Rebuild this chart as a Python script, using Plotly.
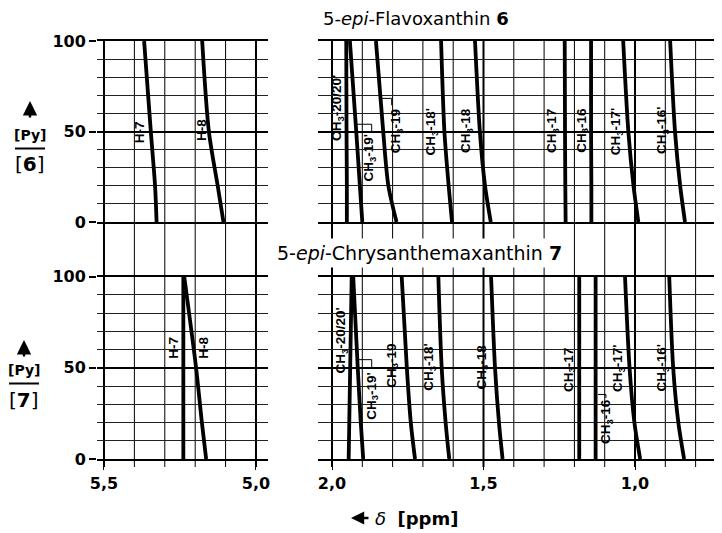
import numpy as np
import plotly.graph_objects as go

# the page body has an 8px default margin: size the figure so that it fills
# the 722x533 window exactly
OFF = 8
W, H = 722 - OFF, 533 - OFF

# ---------------- data ----------------
# titration level [Py]/[compound] (y) and chemical shift delta in ppm (x)
levels = [0, 20, 50, 100]

# 5-epi-Flavoxanthin 6
f6_H7 = [5.327, 5.332, 5.346, 5.368]
f6_H8 = [5.107, 5.126, 5.155, 5.177]
f6_CH3_20 = [1.951, 1.951, 1.952, 1.953]
f6_CH3_19p = [1.900, 1.908, 1.920, 1.941]
f6_CH3_19 = [1.787, 1.814, 1.831, 1.855]
f6_CH3_18p = [1.604, 1.615, 1.629, 1.640]
f6_CH3_18 = [1.476, 1.495, 1.512, 1.528]
f6_CH3_17 = [1.229, 1.230, 1.231, 1.232]
f6_CH3_16 = [1.144, 1.144, 1.145, 1.145]
f6_CH3_17p = [0.989, 1.005, 1.022, 1.039]
f6_CH3_16p = [0.835, 0.851, 0.868, 0.884]

# 5-epi-Chrysanthemaxanthin 7
c7_H7 = [5.239, 5.239, 5.239, 5.239]
c7_H8 = [5.164, 5.178, 5.197, 5.236]
c7_CH3_20 = [1.945, 1.943, 1.940, 1.935]
c7_CH3_19p = [1.897, 1.905, 1.915, 1.930]
c7_CH3_19 = [1.726, 1.740, 1.753, 1.770]
c7_CH3_18p = [1.613, 1.625, 1.638, 1.649]
c7_CH3_18 = [1.437, 1.449, 1.462, 1.475]
c7_CH3_17 = [1.184, 1.184, 1.184, 1.184]
c7_CH3_16 = [1.130, 1.130, 1.130, 1.130]
c7_CH3_17p = [0.983, 1.002, 1.018, 1.033]
c7_CH3_16p = [0.838, 0.857, 0.874, 0.887]

x_tickvals_left = [5.5, 5.0]
x_ticktext_left = ["5,5", "5,0"]
x_tickvals_right = [2.0, 1.5, 1.0]
x_ticktext_right = ["2,0", "1,5", "1,0"]

# ---------------- layout helpers (window pixel -> paper) ----------------
def px(x):
    return (x - OFF) / W

def py(y):
    return 1 - (y - OFF) / H

DOM_L = [px(97), px(268)]
DOM_R = [px(318), 1.0]
DOM_T = [py(222), py(41)]
DOM_B = [py(459), py(276.7)]
RANGE_L = [5.523, 4.9605]
RANGE_R = [2.0462, 0.7129]

CH3 = "CH<sub>3</sub>"
LAB_FONT = dict(family="Liberation Sans", size=13.5, color="black", weight="bold")

# curves: (values, axis-suffix, label, label_x, label_y)
curves = [
    (f6_H7, "", "H-7", 5.382, 49.5),
    (f6_H8, "", "H-8", 5.181, 50.8),
    (f6_CH3_20, "2", CH3 + "-20/20'", 1.980, 63.0),
    (f6_CH3_19p, "2", CH3 + "-19'", 1.875, 35.5),
    (f6_CH3_19, "2", CH3 + "-19", 1.786, 50.0),
    (f6_CH3_18p, "2", CH3 + "-18'", 1.670, 50.0),
    (f6_CH3_18, "2", CH3 + "-18", 1.554, 50.3),
    (f6_CH3_17, "2", CH3 + "-17", 1.272, 50.0),
    (f6_CH3_16, "2", CH3 + "-16", 1.176, 50.8),
    (f6_CH3_17p, "2", CH3 + "-17'", 1.060, 50.0),
    (f6_CH3_16p, "2", CH3 + "-16'", 0.911, 50.8),
    (c7_H7, "3", "H-7", 5.270, 61.0),
    (c7_H8, "3", "H-8", 5.171, 61.0),
    (c7_CH3_20, "4", CH3 + "-20/20'", 1.967, 65.0),
    (c7_CH3_19p, "4", CH3 + "-19'", 1.869, 34.5),
    (c7_CH3_19, "4", CH3 + "-19", 1.803, 51.0),
    (c7_CH3_18p, "4", CH3 + "-18'", 1.677, 50.5),
    (c7_CH3_18, "4", CH3 + "-18", 1.503, 50.5),
    (c7_CH3_17, "4", CH3 + "-17", 1.217, 49.0),
    (c7_CH3_16, "4", CH3 + "-16", 1.096, 20.8),
    (c7_CH3_17p, "4", CH3 + "-17'", 1.055, 49.6),
    (c7_CH3_16p, "4", CH3 + "-16'", 0.909, 50.0),
]

fig = go.Figure()
annotations = []
for vals, ax, label, lx, ly in curves:
    fig.add_trace(go.Scatter(
        x=vals, y=levels, mode="lines",
        line=dict(color="black", width=3.8, shape="spline", smoothing=0.8),
        xaxis="x" + ax, yaxis="y" + ax, showlegend=False, hoverinfo="skip"))
    annotations.append(dict(
        x=lx, y=ly, xref="x" + ax, yref="y" + ax, text=label, textangle=-90,
        xanchor="center", yanchor="middle",
        showarrow=False, font=LAB_FONT))

# leader lines (label brackets)
leaders = [
    ("2", [(1.918, 54.0), (1.869, 54.0), (1.869, 50.0)]),
    ("2", [(1.836, 68.3), (1.803, 68.3), (1.803, 64.5)]),
    ("4", [(1.913, 54.5), (1.869, 54.5), (1.869, 50.0)]),
    ("4", [(1.122, 35.4), (1.096, 35.4), (1.096, 33.5)]),
]
shapes = []
for ax, pts in leaders:
    path = "M " + " L ".join(f"{x},{y}" for x, y in pts)
    shapes.append(dict(type="path", path=path, xref="x" + ax, yref="y" + ax,
                       line=dict(color="black", width=1)))

# vertical grid lines running through both panels (and the gap)
grid_left = np.round(np.arange(5.5, 4.99, -0.1), 2)
grid_right = np.round(np.arange(2.0, 0.75, -0.1), 2)
for ax, vals in (("x3", grid_left), ("x4", grid_right)):
    for v in vals:
        major = abs(v * 2 - round(v * 2)) < 1e-6
        shapes.append(dict(type="line", xref=ax, yref="paper", x0=v, x1=v,
                           y0=py(467), y1=py(41), layer="below",
                           line=dict(color="black", width=2 if major else 1)))


def note(x, y, text, font, **kw):
    d = dict(x=px(x), y=py(y), xref="paper", yref="paper", text=text,
             showarrow=False, xanchor="center", yanchor="middle", font=font)
    d.update(kw)
    return d


# y-axis label blocks:  ↑ [Py] / [n]
for (cx, ytip, ypy, ybar, ynum, num) in ((30, 101, 135, 148.5, 164, "6"),
                                        (24, 340, 370, 383.5, 400, "7")):
    annotations.append(dict(x=px(cx), y=py(ytip), xref="paper", yref="paper",
                            text="", showarrow=True, ax=0, ay=18,
                            arrowhead=2, arrowsize=1.2, arrowwidth=2.4,
                            arrowcolor="black"))
    annotations.append(note(cx, ypy, "[Py]",
                            dict(family="DejaVu Sans", size=14, color="black",
                                 weight="bold")))
    shapes.append(dict(type="line", xref="paper", yref="paper",
                       x0=px(cx - 15), x1=px(cx + 15), y0=py(ybar), y1=py(ybar),
                       line=dict(color="black", width=2)))
    annotations.append(note(cx, ynum, "[<b>" + num + "</b>]",
                            dict(family="DejaVu Sans", size=20, color="black")))

# titles
annotations.append(note(416, 18, "5-<i>epi</i>-Flavoxanthin <b>6</b>",
                        dict(family="DejaVu Sans", size=18, color="black")))
annotations.append(note(420, 253, "5-<i>epi</i>-Chrysanthemaxanthin <b>7</b>",
                        dict(family="DejaVu Sans", size=19, color="black"),
                        bgcolor="white", borderpad=3))

# x-axis title  ← δ [ppm]
annotations.append(dict(x=px(351), y=py(518), xref="paper", yref="paper",
                        text="", showarrow=True, ax=19, ay=0, arrowhead=2,
                        arrowsize=1.1, arrowwidth=2.4, arrowcolor="black"))
annotations.append(note(373, 518, "<i>δ</i>  <b>[ppm]</b>",
                        dict(family="DejaVu Sans", size=18, color="black"),
                        xanchor="left"))

TICKFONT = dict(family="DejaVu Sans", size=16, color="black", weight="bold")

def xax(domain, rng, anchor, tickvals=None, ticktext=None):
    d = dict(domain=domain, range=rng, anchor=anchor, showgrid=False,
             zeroline=False, showline=True, mirror=True, linewidth=2,
             linecolor="black", fixedrange=True, automargin=False)
    if tickvals is None:
        d.update(showticklabels=False, ticks="")
    else:
        d.update(tickmode="array", tickvals=tickvals, ticktext=ticktext,
                 ticks="outside", ticklen=9, tickwidth=1, tickcolor="black",
                 tickfont=TICKFONT)
    return d

def yax(domain, anchor, labels):
    d = dict(domain=domain, range=[0, 100], anchor=anchor, zeroline=False,
             showline=False, tick0=0, dtick=50, showgrid=True,
             gridcolor="black", gridwidth=2, fixedrange=True, automargin=False,
             minor=dict(dtick=10, tick0=0, showgrid=True, gridcolor="#222",
                        gridwidth=1, ticks=""))
    if labels:
        d.update(ticks="outside", ticklen=7, tickwidth=2, tickcolor="black",
                 tickfont=TICKFONT, showticklabels=True)
    else:
        d.update(ticks="", showticklabels=False)
    return d

fig.update_layout(
    width=W, height=H, margin=dict(l=0, r=0, t=0, b=0, autoexpand=False),
    paper_bgcolor="white", plot_bgcolor="rgba(0,0,0,0)",
    xaxis=xax(DOM_L, RANGE_L, "y"),
    yaxis=yax(DOM_T, "x", True),
    xaxis2=xax(DOM_R, RANGE_R, "y2"),
    yaxis2=yax(DOM_T, "x2", False),
    xaxis3=xax(DOM_L, RANGE_L, "y3", x_tickvals_left, x_ticktext_left),
    yaxis3=yax(DOM_B, "x3", True),
    xaxis4=xax(DOM_R, RANGE_R, "y4", x_tickvals_right, x_ticktext_right),
    yaxis4=yax(DOM_B, "x4", False),
    annotations=annotations, shapes=shapes, showlegend=False,
)

fig.write_html("out.html")
